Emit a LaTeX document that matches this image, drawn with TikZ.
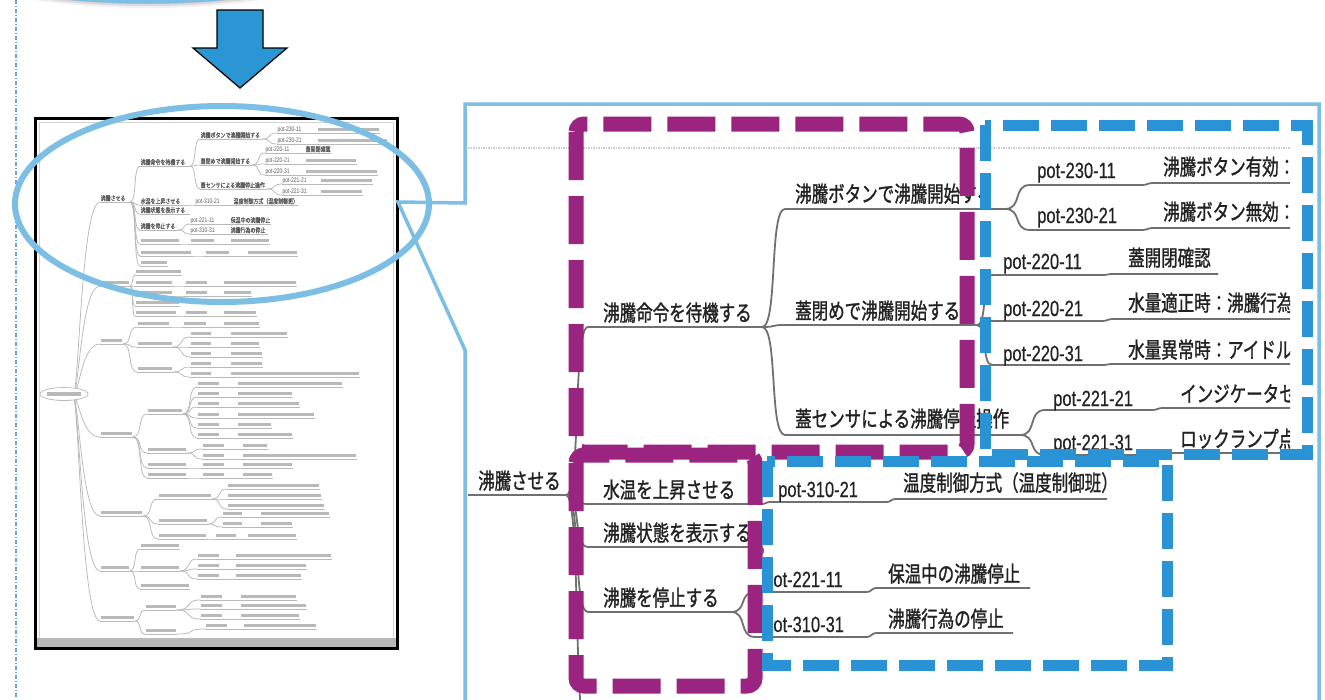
\documentclass[tikz,border=0pt]{standalone}
\usepackage{fontspec}
\newfontfamily\jpz[FakeStretch=0.75,FakeBold=1.2]{Noto Sans CJK JP}
\newfontfamily\potz[FakeStretch=0.75,FakeBold=0.4]{Liberation Sans}
\newfontfamily\jpt[FakeStretch=0.75,FakeBold=0.6]{Noto Sans CJK JP}
\newfontfamily\pott[FakeStretch=0.75]{Liberation Sans}
\usetikzlibrary{calc}
\definecolor{lblue}{HTML}{7CBEE4}
\definecolor{dblue}{HTML}{2A93D5}
\definecolor{purp}{HTML}{9C2481}
\definecolor{arrowblue}{HTML}{2B96D4}
\definecolor{mmgray}{HTML}{707070}
\definecolor{txtblack}{HTML}{222222}
\definecolor{dotblue}{HTML}{6AA5DA}
\tikzset{
 mmline/.style={draw=mmgray, line width=1.8pt},
 jp/.style={font=\jpz\fontsize{22}{22}\selectfont, text=txtblack, inner sep=0pt, anchor=base west},
 pot/.style={font=\potz\fontsize{22}{22}\selectfont, text=txtblack, inner sep=0pt, anchor=base west},
 tline/.style={draw=gray!55, line width=0.75pt},
 tbarst/.style={fill=gray!55},
 tjp/.style={font=\jpt\fontsize{6.6}{6.6}\selectfont, text=black!65, inner sep=0pt, anchor=base west},
 tpot/.style={font=\pott\fontsize{6.6}{6.6}\selectfont, text=black!65, inner sep=0pt, anchor=base west},
 purpbox/.style={draw=purp, line width=15pt, dash pattern=on 48pt off 16pt, rounded corners=8pt},
 bluebox/.style={draw=dblue, line width=11pt, dash pattern=on 36pt off 12pt},
 callout/.style={draw=lblue, line width=3.5pt},
}
% main-panel connector: parent end -> child start, then underline to end x
\newcommand\mmb[5]{\draw[mmline] (#1,#2) .. controls ($(#1,#2)!0.7!(#3,#2)$) and ($(#1,#4)!0.3!(#3,#4)$) .. (#3,#4) -- (#5,#4);}
% thumbnail helpers
\newcommand\thB[4]{\draw[tline] (#1,#2) .. controls ($(#1,#2)!0.7!(#3,#2)$) and ($(#1,#4)!0.3!(#3,#4)$) .. (#3,#4);}
\newcommand\thU[3]{\draw[tline] (#1,#3) -- (#2,#3);}
\newcommand\thBar[3]{\fill[tbarst] (#1+1,#3-4.8) rectangle (#2-1,#3-1.6);}
\newcommand\thR[3]{\thU{#1}{#2}{#3}\thBar{#1}{#2}{#3}}
\newcommand\thP[5]{\thU{#1}{#4}{#5}\thBar{#1}{#2}{#5}\thBar{#3}{#4}{#5}}
\newcommand\thT[3]{\node[tjp] at (#1+0.5,#2-1.3) {#3};}
\newcommand\thX[4]{\thU{#1}{#2}{#3}\thT{#1}{#3}{#4}}
\newcommand\thPt[3]{\node[tpot] at (#1+0.5,#2-1.3) {#3};}
\newcommand\thRoot[1]{\draw[tline] (73,396) .. controls (79,396) and (81,#1) .. (100,#1);}
\begin{document}
\begin{tikzpicture}[x=1pt,y=-1pt]
\useasboundingbox (0,0) rectangle (1325,699);
\fill[white] (0,0) rectangle (1325,699);

% dotted guide line at left
\draw[dotblue, line width=1.1pt, dash pattern=on 4pt off 2pt on 1pt off 2pt] (16,0) -- (16,699);

% remnant of ellipse at the top with its soft shadow
\begin{scope}
\clip (0,0) rectangle (1325,699);
\foreach \s/\o in {7/0.06,5/0.09,3/0.12}{
  \fill[black, opacity=\o] (148,-45+\s) ellipse [x radius=200, y radius=46];
}
\fill[white] (148,-45) ellipse [x radius=200, y radius=46];
\draw[lblue, line width=5pt] (148,-45) ellipse [x radius=200, y radius=46];
\end{scope}

% big blue arrow
\draw[fill=arrowblue, draw=black, line width=1.2pt, line join=miter]
  (217,10) -- (263,10) -- (263,48) -- (287,48) -- (240,88) -- (193,48) -- (217,48) -- cycle;

% ---------------- thumbnail ----------------
\fill[white] (35,118) rectangle (397,648);
\draw[gray!35, line width=1pt] (39,122) rectangle (393,640);

% root
\thRoot{202}\thRoot{286}\thRoot{344}\thRoot{437}\thRoot{516}\thRoot{571}\thRoot{621}
\draw[gray!55, line width=0.75pt, fill=white] (64,394) ellipse [x radius=24, y radius=6.5];
\fill[tbarst] (47,392.3) rectangle (81,395.6);

% level 1
\thX{100}{130}{202}{沸騰させる}
\thR{100}{130}{286}\thR{100}{123}{344}\thR{100}{133}{437}\thR{100}{143}{516}\thR{100}{130}{571}\thR{100}{135}{621}

% subtree: boil
\thB{130}{202}{140}{166}\thX{140}{190}{166}{沸騰命令を待機する}
\thB{130}{202}{140}{205}\thX{140}{185}{205}{水温を上昇させる}
\thB{130}{202}{140}{214}\thX{140}{190}{214}{沸騰状態を表示する}
\thB{130}{202}{140}{230}\thX{140}{178}{230}{沸騰を停止する}
\thB{130}{202}{140}{244}\thR{140}{180}{244}\thB{180}{244}{190}{244}\thP{190}{215}{230}{270}{244}
\thB{130}{202}{140}{256}\thR{140}{192}{256}\thB{192}{256}{205}{256}\thP{205}{230}{247}{298}{256}
\thB{130}{202}{140}{266}\thR{140}{168}{266}

\thB{190}{166}{200}{139}\thX{200}{262}{139}{沸騰ボタンで沸騰開始する}
\thB{190}{166}{200}{165}\thX{200}{252}{165}{蓋閉めで沸騰開始する}
\thB{190}{166}{200}{189}\thX{200}{267}{189}{蓋センサによる沸騰停止操作}

\thB{262}{139}{277}{133}\thU{277}{380}{133}\thPt{277}{133}{pot-230-11}\thBar{317}{380}{133}
\thB{262}{139}{277}{144}\thU{277}{388}{144}\thPt{277}{144}{pot-230-21}\thBar{317}{388}{144}
\thB{252}{165}{265}{153}\thU{265}{331}{153}\thPt{265}{153}{pot-220-11}\thT{305}{153}{蓋開閉確認}
\thB{252}{165}{265}{164}\thU{265}{357}{164}\thPt{265}{164}{pot-220-21}\thBar{305}{357}{164}
\thB{252}{165}{265}{175}\thU{265}{378}{175}\thPt{265}{175}{pot-220-31}\thBar{305}{378}{175}
\thB{267}{189}{282}{184}\thU{282}{373}{184}\thPt{282}{184}{pot-221-21}\thBar{320}{373}{184}
\thB{267}{189}{282}{195}\thU{282}{363}{195}\thPt{282}{195}{pot-221-31}\thBar{320}{363}{195}

\thB{185}{205}{195}{205}\thU{195}{298}{205}\thPt{195}{205}{pot-310-21}\thT{233}{205}{温度制御方式（温度制御班）}
\thB{178}{230}{190}{224}\thU{190}{271}{224}\thPt{190}{224}{pot-221-11}\thT{230}{224}{保温中の沸騰停止}
\thB{178}{230}{190}{234}\thU{190}{268}{234}\thPt{190}{234}{pot-310-31}\thT{230}{234}{沸騰行為の停止}

% subtree 2
\thB{130}{286}{135}{275}\thR{135}{182}{275}
\thB{130}{286}{135}{286}\thR{135}{173}{286}\thB{173}{286}{185}{286}\thP{185}{208}{223}{297}{286}
\thB{130}{286}{135}{296}\thR{135}{173}{296}\thB{173}{296}{185}{296}\thP{185}{208}{223}{252}{296}
\thB{130}{286}{135}{306}\thR{135}{180}{306}
\thB{130}{286}{135}{316}\thR{135}{177}{316}\thB{177}{316}{185}{316}\thP{185}{208}{223}{257}{316}

% subtree 3
\thB{123}{344}{137}{327}\thR{137}{170}{327}\thB{170}{327}{183}{327}\thP{183}{207}{223}{260}{327}
\thB{123}{344}{137}{347}\thR{137}{173}{347}
\thB{173}{347}{190}{337}\thP{190}{212}{230}{288}{337}
\thB{173}{347}{190}{347}\thP{190}{212}{230}{260}{347}
\thB{173}{347}{190}{357}\thP{190}{212}{230}{263}{357}
\thB{123}{344}{137}{372}\thR{137}{173}{372}
\thB{173}{372}{190}{367}\thP{190}{212}{230}{263}{367}
\thB{173}{372}{190}{377}\thP{190}{212}{230}{360}{377}

% subtree 4
\thB{133}{437}{147}{414}\thR{147}{183}{414}
\foreach \yy/\xe in {387/343,397/293,407/300,418/315,428/272,438/293}{
  \thB{183}{414}{197}{\yy}\thP{197}{220}{237}{\xe}{\yy}
}
\thB{133}{437}{147}{453}\thR{147}{187}{453}
\thB{187}{453}{202}{449}\thP{202}{225}{242}{268}{449}
\thB{187}{453}{202}{459}\thP{202}{225}{242}{357}{459}
\thB{133}{437}{147}{468}\thR{147}{187}{468}\thB{187}{468}{202}{468}\thP{202}{225}{242}{293}{468}
\thB{133}{437}{147}{478}\thR{147}{187}{478}\thB{187}{478}{202}{478}\thP{202}{225}{242}{273}{478}

% subtree 5
\thB{143}{516}{158}{499}\thR{158}{212}{499}
\thB{212}{499}{227}{489}\thR{227}{320}{489}
\thB{212}{499}{227}{499}\thR{227}{322}{499}
\thB{212}{499}{227}{509}\thR{227}{325}{509}
\thB{143}{516}{158}{524}\thR{158}{208}{524}
\thB{208}{524}{222}{517}\thP{222}{243}{260}{330}{517}
\thB{208}{524}{222}{527}\thP{222}{243}{260}{293}{527}
\thB{143}{516}{158}{539}\thR{158}{207}{539}\thB{207}{539}{215}{539}\thP{215}{237}{247}{297}{539}

% subtree 6
\thB{130}{571}{140}{549}\thR{140}{180}{549}
\thB{130}{571}{140}{571}\thR{140}{180}{571}
\thB{180}{571}{197}{559}\thP{197}{220}{235}{332}{559}
\thB{180}{571}{197}{569}\thP{197}{220}{235}{307}{569}
\thB{180}{571}{197}{579}\thP{197}{220}{235}{302}{579}
\thB{130}{571}{140}{589}\thR{140}{190}{589}

% subtree 7
\thB{135}{621}{145}{610}\thR{145}{177}{610}
\thB{177}{610}{200}{600}\thP{200}{223}{240}{297}{600}
\thB{177}{610}{200}{609}\thP{200}{223}{240}{307}{609}
\thB{177}{610}{200}{619}\thP{200}{223}{240}{300}{619}
\thB{135}{621}{145}{634}\thR{145}{177}{634}
\thB{177}{634}{205}{629}\thP{205}{228}{243}{317}{629}

\fill[gray!55] (36,638) rectangle (396,647);
\draw[black, line width=3pt] (35,118) rectangle (397,648);

% ---------------- zoomed panel ----------------
\begin{scope}
\clip (467,106) rectangle (1290,699);
\draw[gray!40, line width=2pt, dash pattern=on 1.5pt off 1pt] (468,148) -- (1290,148);

% connectors and underlines
\draw[mmline] (468,495) -- (566,495);
\mmb{566}{495}{588}{327}{762}
\mmb{566}{495}{588}{504}{760}
\mmb{566}{495}{588}{547}{758}
\draw[mmline] (758,547) .. controls (764,547) and (765,551) .. (761,555);
\mmb{566}{495}{588}{612}{733}
\mmb{566}{495}{588}{740}{700}

\mmb{762}{327}{785}{209}{1005}
\mmb{762}{327}{785}{325}{977}
\mmb{762}{327}{785}{435}{1020}

\mmb{1005}{209}{1030}{185}{1140}\mmb{1140}{185}{1155}{183}{1300}
\mmb{1005}{209}{1030}{230}{1140}\mmb{1140}{230}{1155}{228}{1300}

\mmb{977}{325}{992}{275}{1100}\mmb{1100}{275}{1115}{274}{1218}
\mmb{977}{325}{992}{321}{1100}\mmb{1100}{321}{1115}{319}{1300}
\mmb{977}{325}{992}{365}{1100}\mmb{1100}{365}{1115}{364}{1300}

\mmb{1020}{435}{1045}{410}{1150}\mmb{1150}{410}{1165}{408}{1300}
\mmb{1020}{435}{1045}{455}{1150}\mmb{1150}{455}{1165}{453}{1300}

\mmb{760}{504}{772}{502}{885}\mmb{885}{502}{897}{499}{1107}

\mmb{731}{612}{755}{592}{865}\mmb{865}{592}{878}{588}{1030}
\mmb{731}{612}{755}{637}{865}\mmb{865}{637}{878}{633}{1013}

% texts
\node[jp] (r0) at (478,489) {沸騰させる};
\node[jp] (a1) at (603,321) {沸騰命令を待機する};
\node[jp] (a2) at (603,498) {水温を上昇させる};
\node[jp] (a3) at (603,541) {沸騰状態を表示する};
\node[jp] (a4) at (603,606) {沸騰を停止する};
\node[jp] (b1) at (795,202) {沸騰ボタンで沸騰開始する};
\node[jp] (b2) at (795,319) {蓋閉めで沸騰開始する};
\node[jp] (b3) at (795,427) {蓋センサによる沸騰停止操作};
\node[pot] (p1) at (1037,178) {pot-230-11};
\node[jp] (l1) at (1163,175) {沸騰ボタン有効：};
\node[pot] (p2) at (1037,223) {pot-230-21};
\node[jp] (l2) at (1163,220) {沸騰ボタン無効：};
\node[pot] (p3) at (1003,269) {pot-220-11};
\node[jp] (l3) at (1128,266) {蓋開閉確認};
\node[pot] (p4) at (1003,316) {pot-220-21};
\node[jp] (l4) at (1128,311) {水量適正時：沸騰行為};
\node[pot] (p5) at (1003,361) {pot-220-31};
\node[jp] (l5) at (1128,358) {水量異常時：アイドル};
\node[pot] (p6) at (1053,406) {pot-221-21};
\node[jp] (l6) at (1180,402) {インジケータセ};
\node[pot] (p7) at (1053,450) {pot-221-31};
\node[jp] (l7) at (1180,447) {ロックランプ点};
\node[pot] (p8) at (778,497) {pot-310-21};
\node[jp] (l8) at (903,491) {温度制御方式（温度制御班）};
\node[pot] (p9) at (764,587) {pot-221-11};
\node[jp] (l9) at (888,582) {保温中の沸騰停止};
\node[pot] (p10) at (764,632) {pot-310-31};
\node[jp] (l10) at (888,627) {沸騰行為の停止};
\end{scope}

% dashed highlight frames
\draw[purpbox] (576,124) rectangle (967,452);
\draw[purpbox] (576,455) rectangle (755,686);
\draw[bluebox] (985,125) rectangle (1307,454);
\draw[bluebox] (767,461) rectangle (1167,665);

% callout frame
\draw[callout, line join=miter] (465,710) -- (465,350) -- (398,202) -- (465,203) -- (465,104) -- (1319,104) -- (1319,710);

% highlight ellipse on the thumbnail
\draw[lblue, line width=6pt] (222,204) ellipse [x radius=207, y radius=98];
\end{tikzpicture}
\end{document}
